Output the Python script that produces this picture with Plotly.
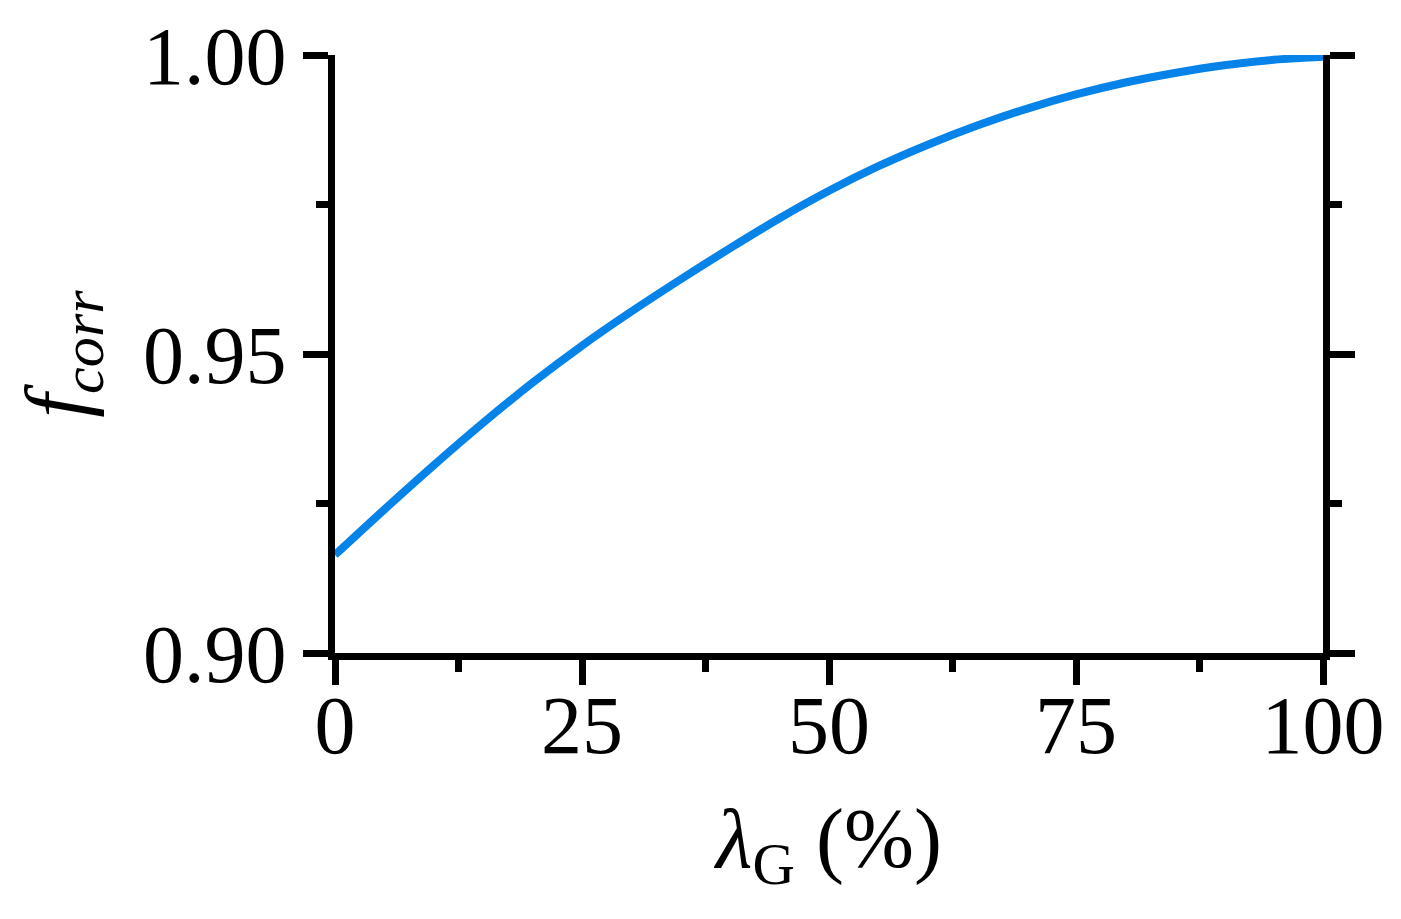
"""
Correction factor f_corr versus lambda_G, single curve on a boxed axis
(left, bottom and mirrored right axis, no top line).
"""

import plotly.graph_objects as go

# ---------------------------------------------------------------------------
# Data
# ---------------------------------------------------------------------------

LAMBDA_G = [0, 5, 10, 15, 20, 25, 30, 35, 40, 45, 50,
            55, 60, 65, 70, 75, 80, 85, 90, 95, 100]
F_CORR = [0.9164, 0.9240, 0.9314, 0.9385, 0.9452, 0.9514, 0.9571, 0.9625,
          0.9677, 0.9727, 0.9773, 0.9814, 0.9850, 0.9882, 0.9910, 0.9934,
          0.9954, 0.9970, 0.9983, 0.9992, 0.9997]

X_TICKS = [0, 25, 50, 75, 100]
Y_TICKS = [0.90, 0.95, 1.00]

# ---------------------------------------------------------------------------
# Styling
# ---------------------------------------------------------------------------

FONT = "Liberation Serif, Times New Roman, serif"
LINE_W = 7
CURVE_COLOR = "#0583E8"

AXIS_STYLE = dict(
    showline=True,
    linecolor="black",
    linewidth=LINE_W,
    showgrid=False,
    zeroline=False,
    automargin=False,
    ticks="outside",
    ticklen=25,
    tickwidth=LINE_W,
    tickcolor="black",
    tickfont=dict(family=FONT, size=82, color="black"),
)

MINOR_STYLE = dict(ticks="outside", ticklen=12, tickwidth=LINE_W, tickcolor="black")

fig = go.Figure()

fig.add_trace(go.Scatter(
    x=LAMBDA_G,
    y=F_CORR,
    mode="lines",
    line=dict(color=CURVE_COLOR, width=8, shape="spline"),
    showlegend=False,
))

# the page body has an 8px margin, so the figure is sized to sit inside it
fig.update_layout(
    width=1385,
    height=903,
    paper_bgcolor="white",
    plot_bgcolor="white",
    margin=dict(l=327, r=70, t=47, b=258),
    font=dict(family=FONT, color="black"),
    xaxis=dict(
        **AXIS_STYLE,
        range=[0, 100],
        tickvals=X_TICKS,
        ticklabelstandoff=-30,
        minor=dict(dtick=12.5, tick0=0, **MINOR_STYLE),
        title=dict(text="<i>λ</i><sub>G</sub> (%)", standoff=40,
                   font=dict(family=FONT, size=84, color="black")),
    ),
    yaxis=dict(
        **AXIS_STYLE,
        range=[0.90, 1.00],
        tickvals=Y_TICKS,
        tickformat=".2f",
        mirror="ticks",
        minor=dict(dtick=0.025, tick0=0.9, **MINOR_STYLE),
        # trailing no-break spaces nudge the rotated title down a little
        title=dict(text="<i>f</i><sub><i>corr</i></sub>\u00a0\u00a0\u00a0\u00a0",
                   standoff=40, font=dict(family=FONT, size=86, color="black")),
    ),
)

fig.write_html("out.html")
